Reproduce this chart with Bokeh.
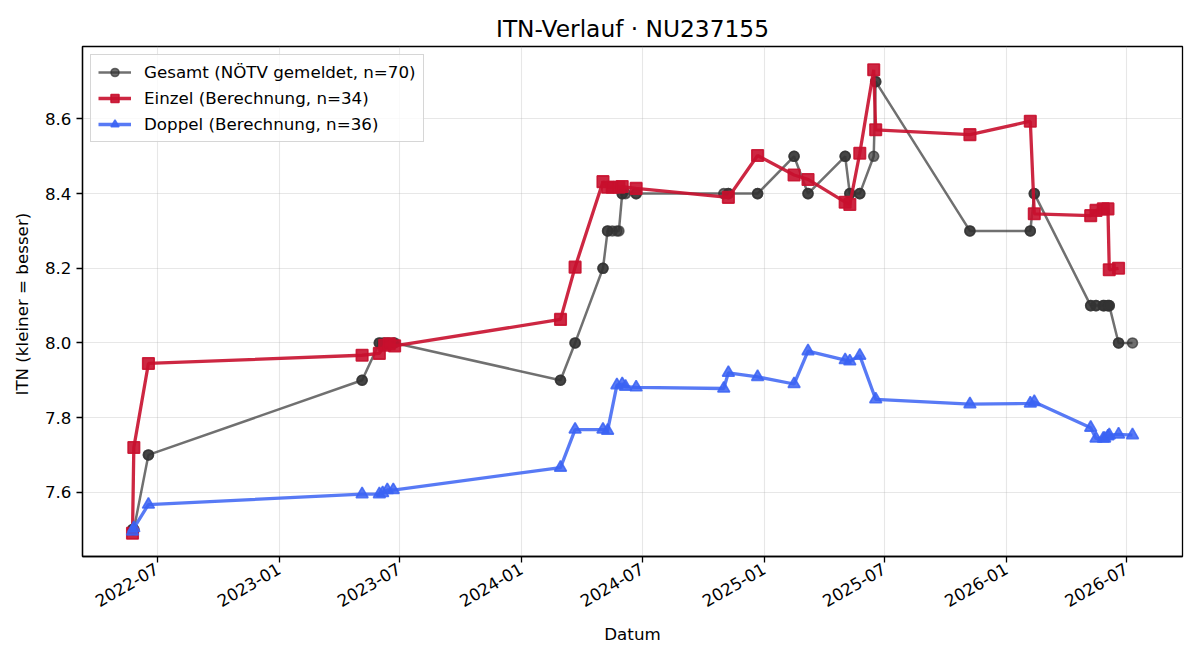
import math
import pandas as pd
from bokeh.plotting import figure
from bokeh.models import (Range1d, FixedTicker, DatetimeTickFormatter, PrintfTickFormatter,
                          Legend, LegendItem, ColumnDataSource)
from bokeh.embed import file_html
from bokeh.resources import INLINE

# ---------------- data ----------------
einzel_dates = ["2022-05-25", "2022-05-27", "2022-06-18", "2023-05-06", "2023-06-01", "2023-06-09",
                "2023-06-16", "2023-06-24", "2024-02-29", "2024-03-22", "2024-05-03", "2024-05-10",
                "2024-05-17", "2024-05-27", "2024-06-01", "2024-06-22", "2024-11-08", "2024-12-22",
                "2025-02-15", "2025-03-08", "2025-05-03", "2025-05-10", "2025-05-25", "2025-06-15",
                "2025-06-18", "2025-11-07", "2026-02-06", "2026-02-12", "2026-05-08", "2026-05-16",
                "2026-05-27", "2026-06-03", "2026-06-05", "2026-06-19"]
einzel_vals = [7.490, 7.720, 7.945, 7.967, 7.972, 7.994, 7.998, 7.992, 8.063, 8.203, 8.432, 8.417,
               8.417, 8.417, 8.419, 8.414, 8.390, 8.502, 8.450, 8.438, 8.377, 8.371, 8.508, 8.732,
               8.571, 8.558, 8.594, 8.346, 8.341, 8.355, 8.359, 8.359, 8.196, 8.200]

doppel_dates = ["2022-05-25", "2022-05-27", "2022-06-18", "2023-05-06", "2023-06-01", "2023-06-06",
                "2023-06-13", "2023-06-22", "2024-02-29", "2024-03-22", "2024-05-03", "2024-05-10",
                "2024-05-24", "2024-06-01", "2024-06-06", "2024-06-22", "2024-11-01", "2024-11-08",
                "2024-12-22", "2025-02-15", "2025-03-08", "2025-05-03", "2025-05-10", "2025-05-25",
                "2025-06-18", "2025-11-07", "2026-02-06", "2026-02-12", "2026-05-08", "2026-05-16",
                "2026-05-27", "2026-05-29", "2026-06-03", "2026-06-05", "2026-06-19", "2026-07-10"]
doppel_vals = [7.495, 7.504, 7.567, 7.595, 7.595, 7.598, 7.606, 7.606, 7.666, 7.768, 7.768, 7.765,
               7.887, 7.890, 7.883, 7.881, 7.878, 7.920, 7.909, 7.890, 7.978, 7.954, 7.951, 7.966,
               7.849, 7.836, 7.838, 7.842, 7.773, 7.744, 7.744, 7.744, 7.750, 7.753, 7.755, 7.753]

gesamt_dates = ["2022-05-25", "2022-05-25", "2022-05-27", "2022-05-27", "2022-06-18", "2022-06-18",
                "2023-05-06", "2023-05-06", "2023-06-01", "2023-06-01", "2023-06-06", "2023-06-09",
                "2023-06-13", "2023-06-16", "2023-06-22", "2023-06-24", "2024-02-29", "2024-02-29",
                "2024-03-22", "2024-03-22", "2024-05-03", "2024-05-03", "2024-05-10", "2024-05-10",
                "2024-05-17", "2024-05-24", "2024-05-27", "2024-06-01", "2024-06-01", "2024-06-06",
                "2024-06-22", "2024-06-22", "2024-11-01", "2024-11-08", "2024-11-08", "2024-12-22",
                "2024-12-22", "2025-02-15", "2025-02-15", "2025-03-08", "2025-03-08", "2025-05-03",
                "2025-05-03", "2025-05-10", "2025-05-10", "2025-05-25", "2025-05-25", "2025-06-15",
                "2025-06-18", "2025-06-18", "2025-11-07", "2025-11-07", "2026-02-06", "2026-02-06",
                "2026-02-12", "2026-02-12", "2026-05-08", "2026-05-08", "2026-05-16", "2026-05-16",
                "2026-05-27", "2026-05-27", "2026-05-29", "2026-06-03", "2026-06-03", "2026-06-05",
                "2026-06-05", "2026-06-19", "2026-06-19", "2026-07-10"]
gesamt_vals = [7.5, 7.5, 7.5, 7.5, 7.7, 7.7,
               7.9, 7.9, 8.0, 8.0, 8.0, 8.0,
               8.0, 8.0, 8.0, 8.0, 7.9, 7.9,
               8.0, 8.0, 8.2, 8.2, 8.3, 8.3,
               8.3, 8.3, 8.3, 8.4, 8.4, 8.4,
               8.4, 8.4, 8.4, 8.4, 8.4, 8.4,
               8.4, 8.5, 8.5, 8.4, 8.4, 8.5,
               8.5, 8.4, 8.4, 8.4, 8.4, 8.5,
               8.7, 8.7, 8.3, 8.3, 8.3, 8.3,
               8.4, 8.4, 8.1, 8.1, 8.1, 8.1,
               8.1, 8.1, 8.1, 8.1, 8.1, 8.1,
               8.1, 8.0, 8.0, 8.0]

x_tick_dates = ["2022-07-01", "2023-01-01", "2023-07-01", "2024-01-01", "2024-07-01",
                "2025-01-01", "2025-07-01", "2026-01-01", "2026-07-01"]
y_ticks = [7.6, 7.8, 8.0, 8.2, 8.4, 8.6]

label_gesamt = "Gesamt (NÖTV gemeldet, n=70)"
label_einzel = "Einzel (Berechnung, n=34)"
label_doppel = "Doppel (Berechnung, n=36)"
title_text = "ITN-Verlauf · NU237155"
x_label = "Datum"
y_label = "ITN  (kleiner = besser)"

# ---------------- styling ----------------
FONT = "DejaVu Sans"
C_GES = "#333333"
C_EIN = "#c8102e"
C_DOP = "#3b63f3"


def to_dt(lst):
    return pd.to_datetime(lst)


src_g = ColumnDataSource(dict(x=to_dt(gesamt_dates), y=gesamt_vals))
src_e = ColumnDataSource(dict(x=to_dt(einzel_dates), y=einzel_vals))
src_d = ColumnDataSource(dict(x=to_dt(doppel_dates), y=doppel_vals))

all_dates = list(to_dt(gesamt_dates)) + list(to_dt(einzel_dates)) + list(to_dt(doppel_dates))
xmin, xmax = min(all_dates), max(all_dates)
xpad = (xmax - xmin) * 0.05
all_vals = gesamt_vals + einzel_vals + doppel_vals
ymin, ymax = min(all_vals), max(all_vals)
ypad = (ymax - ymin) * 0.05

p = figure(width=1200, height=660, x_axis_type="datetime", output_backend="svg",
           toolbar_location=None,
           x_range=Range1d(xmin - xpad, xmax + xpad),
           y_range=Range1d(ymin - ypad, ymax + ypad),
           min_border_left=82, min_border_right=18, min_border_top=46, min_border_bottom=104)

p.background_fill_color = "white"
p.border_fill_color = "white"
p.outline_line_color = "black"
p.outline_line_width = 1.3
p.outline_line_alpha = 1.0

p.title.text = title_text
p.title.align = "center"
p.title.text_font = FONT
p.title.text_font_size = "23.3px"
p.title.text_font_style = "normal"
p.title.text_color = "black"
p.title.standoff = 10

# ticks
tick_ms = [pd.Timestamp(d).value / 1e6 for d in x_tick_dates]
p.xaxis.ticker = FixedTicker(ticks=tick_ms)
fmt = "%Y-%m"
p.xaxis.formatter = DatetimeTickFormatter(milliseconds=fmt, seconds=fmt, minsec=fmt, minutes=fmt,
                                          hourmin=fmt, hours=fmt, days=fmt, months=fmt, years=fmt)
p.xaxis.major_label_orientation = math.pi / 6
p.yaxis.ticker = FixedTicker(ticks=y_ticks)
p.yaxis.formatter = PrintfTickFormatter(format="%.1f")

for ax in (p.xaxis, p.yaxis):
    ax.major_label_text_font = FONT
    ax.major_label_text_font_size = "16.7px"
    ax.major_label_text_color = "black"
    ax.axis_label_text_font = FONT
    ax.axis_label_text_font_size = "16.7px"
    ax.axis_label_text_font_style = "normal"
    ax.axis_label_text_color = "black"
    ax.axis_line_color = "black"
    ax.axis_line_width = 1.3
    ax.major_tick_line_color = "black"
    ax.major_tick_line_width = 1.3
    ax.major_tick_out = 6
    ax.major_tick_in = 0
    ax.minor_tick_line_color = None
    ax.major_label_standoff = 5

p.xaxis.axis_label = x_label
p.yaxis.axis_label = y_label
p.xaxis.axis_label_standoff = 8
p.yaxis.axis_label_standoff = 10

p.grid.grid_line_color = "#b0b0b0"
p.grid.grid_line_alpha = 0.3
p.grid.grid_line_width = 1.1

# series
lg = p.line("x", "y", source=src_g, line_color=C_GES, line_alpha=0.7, line_width=2.5)
sg = p.scatter("x", "y", source=src_g, marker="circle", size=10, fill_color=C_GES, line_color=C_GES,
               fill_alpha=0.7, line_alpha=0.7, line_width=1.6)
le = p.line("x", "y", source=src_e, line_color=C_EIN, line_alpha=0.9, line_width=3.3)
se = p.scatter("x", "y", source=src_e, marker="square", size=11.5, fill_color=C_EIN, line_color=C_EIN,
               fill_alpha=0.9, line_alpha=0.9, line_width=1.6)
ld = p.line("x", "y", source=src_d, line_color=C_DOP, line_alpha=0.85, line_width=3.3)
sd = p.scatter("x", "y", source=src_d, marker="triangle", size=12, fill_color=C_DOP, line_color=C_DOP,
               fill_alpha=0.85, line_alpha=0.85, line_width=1.6)

legend = Legend(items=[LegendItem(label=label_gesamt, renderers=[lg, sg]),
                       LegendItem(label=label_einzel, renderers=[le, se]),
                       LegendItem(label=label_doppel, renderers=[ld, sd])],
                location="top_left")
legend.label_text_font = FONT
legend.label_text_font_size = "16.7px"
legend.label_text_color = "black"
legend.glyph_width = 33
legend.glyph_height = 20
legend.label_height = 20
legend.label_standoff = 13
legend.spacing = 6
legend.padding = 7
legend.margin = 8
legend.border_line_color = "#cccccc"
legend.border_line_alpha = 0.8
legend.border_line_width = 1.3
legend.background_fill_color = "white"
legend.background_fill_alpha = 0.8
p.add_layout(legend)

open("out.html", "w").write(file_html(p, INLINE))
